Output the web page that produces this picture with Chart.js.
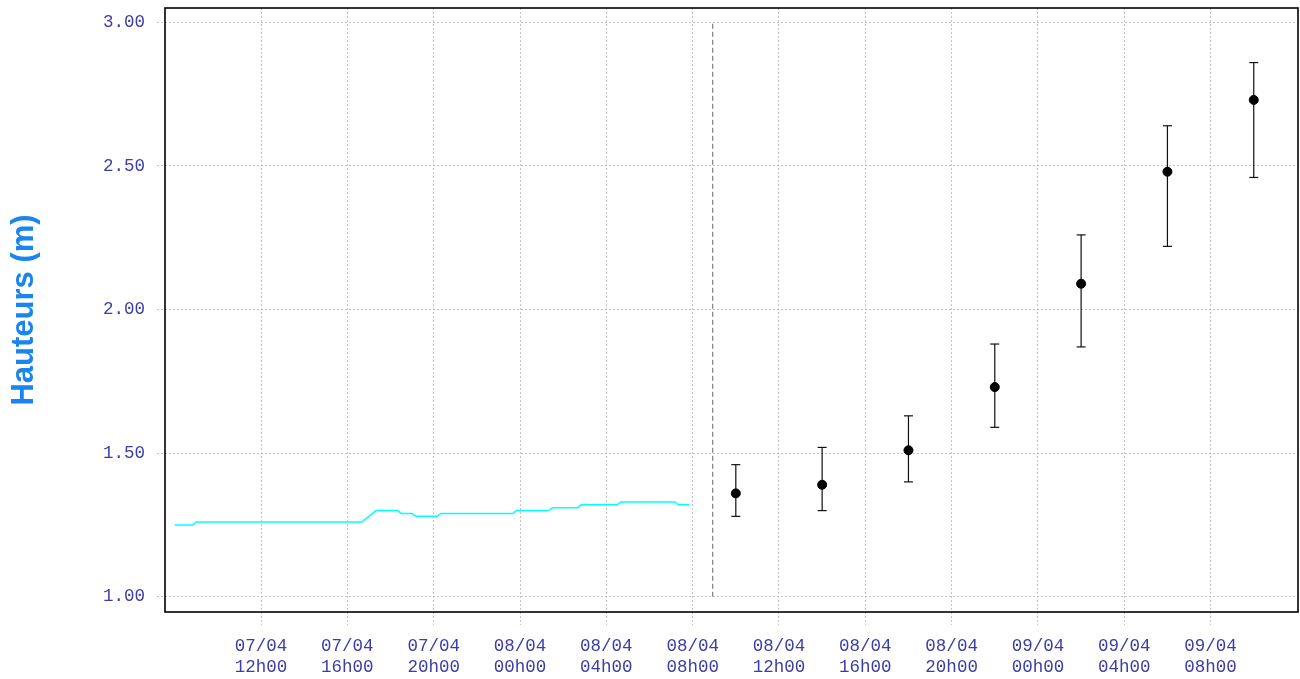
<!DOCTYPE html>
<html>
<head>
<meta charset="utf-8">
<script src="https://cdn.jsdelivr.net/npm/chart.js@4.4.1/dist/chart.umd.min.js"></script>
<style>
  body { margin: 0; background: #fff; }
  #wrap { width: 1300px; height: 679px; }
</style>
</head>
<body>
<div id="wrap"><canvas id="hauteursChart"></canvas></div>
<script>
// hours counted from 07/04 00h00
const obsHours = [8.0, 8.83, 9.0, 16.67, 17.33, 18.33, 18.5, 19.0, 19.17, 20.17, 20.33, 23.67, 23.83, 25.33, 25.5, 26.67, 26.83, 28.5, 28.67, 31.17, 31.33, 31.83];
const obsLevels = [1.25, 1.25, 1.26, 1.26, 1.30, 1.30, 1.29, 1.29, 1.28, 1.28, 1.29, 1.29, 1.30, 1.30, 1.31, 1.31, 1.32, 1.32, 1.33, 1.33, 1.32, 1.32];

const fcHours = [34, 38, 42, 46, 50, 54, 58];
const fcLevels = [1.36, 1.39, 1.51, 1.73, 2.09, 2.48, 2.73];
const fcLow = [1.28, 1.30, 1.40, 1.59, 1.87, 2.22, 2.46];
const fcHigh = [1.46, 1.52, 1.63, 1.88, 2.26, 2.64, 2.86];

const nowHour = 32.93;
const nowRange = [1.0, 3.0];

const xTickHours = [12, 16, 20, 24, 28, 32, 36, 40, 44, 48, 52, 56];
const xTickLabels = [
    ['07/04', '12h00'], ['07/04', '16h00'], ['07/04', '20h00'],
    ['08/04', '00h00'], ['08/04', '04h00'], ['08/04', '08h00'],
    ['08/04', '12h00'], ['08/04', '16h00'], ['08/04', '20h00'],
    ['09/04', '00h00'], ['09/04', '04h00'], ['09/04', '08h00']
];
const yTickValues = [1.0, 1.5, 2.0, 2.5, 3.0];

const tickColor = '#3d3da8';
const gridColor = '#c4c4c4';
const monoFont = { family: '"Liberation Mono", "Courier New", monospace', size: 17.5, lineHeight: 1.25 };

const whiskers = [];
fcHours.forEach((h, i) => {
    whiskers.push({ x: h, y: fcLow[i] }, { x: h, y: fcHigh[i] }, { x: h, y: null });
});

// box round the plot area
const frame = {
    id: 'frame',
    afterDraw(chart) {
        const { ctx, chartArea: a } = chart;
        ctx.save();
        ctx.strokeStyle = '#000';
        ctx.lineWidth = 1.6;
        ctx.strokeRect(a.left, a.top, a.right - a.left, a.bottom - a.top);
        ctx.restore();
    }
};

new Chart(document.getElementById('hauteursChart'), {
    type: 'line',
    data: {
        datasets: [
            {
                label: 'Prévision',
                data: fcHours.map((h, i) => ({ x: h, y: fcLevels[i] })),
                showLine: false,
                pointRadius: 4.5,
                pointBackgroundColor: '#000',
                pointBorderColor: '#000',
                order: 0
            },
            {
                label: 'Incertitude',
                data: whiskers,
                borderColor: '#111',
                borderWidth: 1.2,
                spanGaps: false,
                pointStyle: 'line',
                pointRadius: 4.5,
                pointBorderWidth: 1.2,
                pointBorderColor: '#111',
                order: 1
            },
            {
                label: 'Maintenant',
                data: nowRange.map(v => ({ x: nowHour, y: v })),
                borderColor: '#666',
                borderWidth: 1,
                borderDash: [5, 3],
                pointRadius: 0,
                order: 2
            },
            {
                label: 'Observé',
                data: obsHours.map((h, i) => ({ x: h, y: obsLevels[i] })),
                borderColor: '#00ffff',
                borderWidth: 1.5,
                pointRadius: 0,
                tension: 0,
                order: 3
            }
        ]
    },
    options: {
        responsive: true,
        maintainAspectRatio: false,
        animation: false,
        layout: { autoPadding: false, padding: { top: 8, right: 2 } },
        plugins: {
            legend: { display: false },
            tooltip: { enabled: false }
        },
        scales: {
            x: {
                type: 'linear',
                min: 7.55,
                max: 60.05,
                afterBuildTicks: scale => { scale.ticks = xTickHours.map(v => ({ value: v })); },
                afterFit: scale => {
                    scale.height = 67;
                    scale.paddingLeft = 0;
                    scale.paddingRight = 0;
                },
                border: { display: false, dash: [2, 2] },
                grid: {
                    color: gridColor,
                    tickLength: 13,
                    tickColor: gridColor,
                    tickBorderDash: [2, 2]
                },
                ticks: {
                    color: tickColor,
                    font: monoFont,
                    padding: 10,
                    maxRotation: 0,
                    autoSkip: false,
                    callback: (value, index) => xTickLabels[index]
                }
            },
            y: {
                min: 0.947,
                max: 3.05,
                afterBuildTicks: scale => { scale.ticks = yTickValues.map(v => ({ value: v })); },
                afterFit: scale => {
                    scale.width = 165;
                    scale.paddingTop = 0;
                    scale.paddingBottom = 0;
                },
                border: { display: false, dash: [2, 2] },
                grid: {
                    color: gridColor,
                    tickLength: 8,
                    tickColor: gridColor,
                    tickBorderDash: [2, 2]
                },
                ticks: {
                    color: tickColor,
                    font: monoFont,
                    padding: 12,
                    callback: value => value.toFixed(2)
                },
                title: {
                    display: true,
                    text: 'Hauteurs (m)',
                    color: '#1a84f0',
                    font: { family: '"Liberation Sans", Arial, sans-serif', size: 31, weight: 'bold', lineHeight: 1.2 },
                    padding: { top: 6, bottom: 60 }
                }
            }
        }
    },
    plugins: [frame]
});
</script>
</body>
</html>
